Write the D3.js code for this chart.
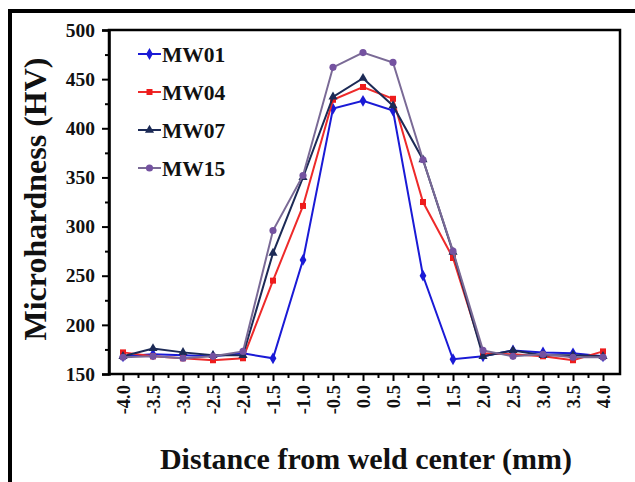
<!DOCTYPE html>
<html>
<head>
<meta charset="utf-8">
<script src="https://cdn.jsdelivr.net/npm/d3@7"></script>
<style>
  body { margin: 0; background: #fff; }
  svg text { font-family: "Liberation Serif", "Times New Roman", serif; font-weight: bold; }
</style>
</head>
<body>
<div id="chart"></div>
<script>
// distance from weld center (mm)
const distances = [-4.0, -3.5, -3.0, -2.5, -2.0, -1.5, -1.0, -0.5, 0.0, 0.5, 1.0, 1.5, 2.0, 2.5, 3.0, 3.5, 4.0];
const xTickLabels = ["-4.0","-3.5","-3.0","-2.5","-2.0","-1.5","-1.0","-0.5","0.0","0.5","1.0","1.5","2.0","2.5","3.0","3.5","4.0"];
const yTicks = [150, 200, 250, 300, 350, 400, 450, 500];

const seriesNames = ["MW01", "MW04", "MW07", "MW15"];
const mw01 = [168, 170, 169, 168, 171, 166, 266, 420, 428, 418, 250, 165, 168, 174, 172, 171, 168];
const mw04 = [172, 168, 166, 164, 166, 245, 321, 429, 442, 430, 325, 268, 171, 170, 168, 164, 173];
const mw07 = [168, 176, 172, 169, 169, 273, 350, 432, 451, 423, 368, 274, 168, 174, 169, 169, 168];
const mw15 = [167, 168, 166, 168, 173, 296, 352, 462, 477, 467, 368, 275, 174, 168, 170, 167, 167];

const seriesColors = ["#1a1ad6", "#ee1c1c", "#1c2a56", "#7452a0"];
const lineColors = ["#1a1ad6", "#ee2a2a", "#1c2a56", "#7a6a96"];
const markerTypes = [d3.symbolDiamond, d3.symbolSquare, d3.symbolTriangle, d3.symbolCircle];
const markerSizes = [40, 36, 36, 40];

const width = 635, height = 482;
const svg = d3.select("#chart").append("svg")
  .attr("width", width)
  .attr("height", height);

// outer frame (top + left only visible)
svg.append("path")
  .attr("d", "M10,482 L10,11 L635,11")
  .attr("fill", "none")
  .attr("stroke", "#000")
  .attr("stroke-width", 4);

const plotL = 109, plotR = 620, plotT = 30, plotB = 374;

const x = d3.scaleLinear().domain([-4, 4]).range([123, 603]);
const y = d3.scaleLinear().domain([150, 500]).range([plotB, plotT]);

// plot box
svg.append("rect")
  .attr("x", plotL).attr("y", plotT)
  .attr("width", plotR - plotL).attr("height", plotB - plotT)
  .attr("fill", "none")
  .attr("stroke", "#000")
  .attr("stroke-width", 2.5);

// y axis
const yAxis = svg.append("g")
  .attr("transform", "translate(" + plotL + ",0)")
  .call(d3.axisLeft(y).tickValues(yTicks).tickSize(7).tickPadding(7).tickFormat(d3.format("d")));
yAxis.select(".domain").attr("stroke-width", 2.5);
yAxis.selectAll(".tick line").attr("stroke-width", 2);
yAxis.selectAll(".tick text").style("font-size", "19.5px").attr("fill", "#111");
// minor y ticks
svg.append("g")
  .attr("transform", "translate(" + plotL + ",0)")
  .call(d3.axisLeft(y).tickValues(d3.range(175, 500, 50)).tickSize(4).tickFormat(""))
  .call(g => g.select(".domain").remove())
  .selectAll(".tick line").attr("stroke-width", 2);

// x axis
const xAxis = svg.append("g")
  .attr("transform", "translate(0," + plotB + ")")
  .call(d3.axisBottom(x).tickValues(distances).tickSize(7).tickFormat((d, i) => xTickLabels[i]));
xAxis.select(".domain").remove();
xAxis.selectAll(".tick line").attr("stroke-width", 2);
xAxis.selectAll(".tick text")
  .style("font-size", "18.5px")
  .attr("fill", "#111")
  .attr("transform", "rotate(-90)")
  .attr("x", -11)
  .attr("y", 0)
  .attr("dy", "0.35em")
  .style("text-anchor", "end");
// minor x ticks
svg.append("g")
  .attr("transform", "translate(0," + plotB + ")")
  .call(d3.axisBottom(x).tickValues(d3.range(-3.75, 4, 0.5)).tickSize(4).tickFormat(""))
  .call(g => g.select(".domain").remove())
  .selectAll(".tick line").attr("stroke-width", 2);

// axis titles
svg.append("text")
  .attr("transform", "translate(46,199) rotate(-90)")
  .attr("text-anchor", "middle")
  .style("font-size", "32px")
  .attr("fill", "#111")
  .text("Microhardness (HV)");

svg.append("text")
  .attr("x", 366)
  .attr("y", 469)
  .attr("text-anchor", "middle")
  .style("font-size", "30px")
  .attr("fill", "#111")
  .text("Distance from weld center (mm)");

// series
const allSeries = [mw01, mw04, mw07, mw15];
const line = d3.line()
  .x((d, i) => x(distances[i]))
  .y(d => y(d));

allSeries.forEach((vals, s) => {
  svg.append("path")
    .datum(vals)
    .attr("fill", "none")
    .attr("stroke", lineColors[s])
    .attr("stroke-width", 2)
    .attr("d", line);

  svg.selectAll(".m" + s)
    .data(vals)
    .enter()
    .append("path")
      .attr("class", "m" + s)
      .attr("transform", (d, i) => "translate(" + x(distances[i]) + "," + y(d) + ")")
      .attr("d", d3.symbol().type(markerTypes[s]).size(markerSizes[s]))
      .attr("fill", seriesColors[s]);
});

// legend
const legend = svg.append("g");
seriesNames.forEach((name, s) => {
  const ly = 54 + s * 38;
  legend.append("line")
    .attr("x1", 138).attr("x2", 161)
    .attr("y1", ly).attr("y2", ly)
    .attr("stroke", lineColors[s])
    .attr("stroke-width", 2);
  legend.append("path")
    .attr("transform", "translate(149.5," + ly + ")")
    .attr("d", d3.symbol().type(markerTypes[s]).size(markerSizes[s]))
    .attr("fill", seriesColors[s]);
  legend.append("text")
    .attr("x", 162)
    .attr("y", ly + 7.5)
    .style("font-size", "21.5px")
    .attr("fill", "#111")
    .text(name);
});
</script>
</body>
</html>
